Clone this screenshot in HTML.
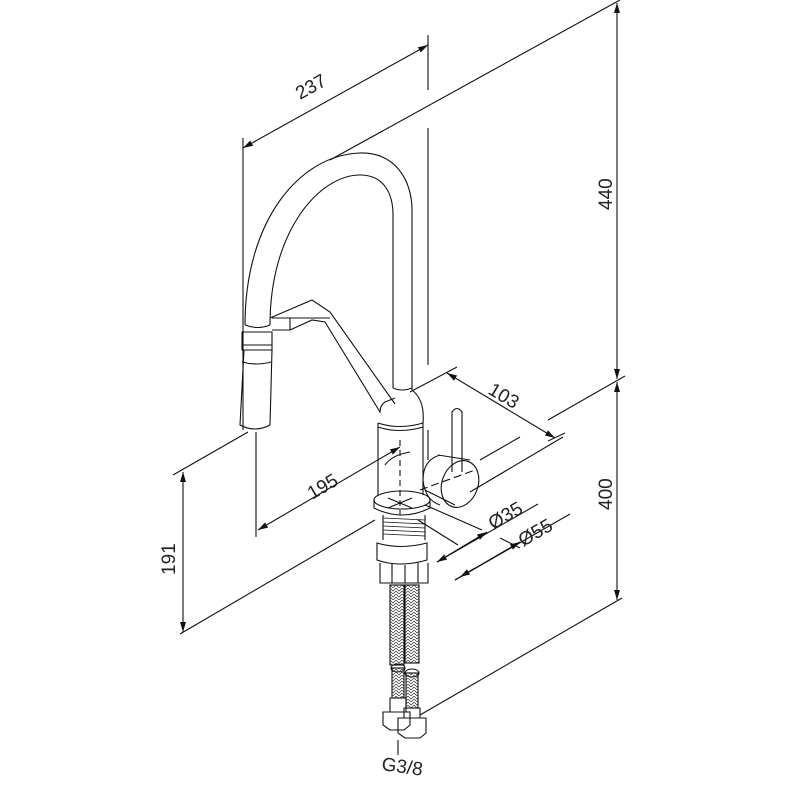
<!DOCTYPE html>
<html><head><meta charset="utf-8"><style>
html,body{margin:0;padding:0;background:#fff;}
svg{display:block;}
text{font-family:"Liberation Sans",sans-serif;font-size:19px;fill:#222;}
</style></head><body>
<svg width="789" height="788" viewBox="0 0 789 788" xmlns="http://www.w3.org/2000/svg">
<defs>
<marker id="a" viewBox="0 0 10 6" refX="10" refY="3" markerWidth="10" markerHeight="6" orient="auto-start-reverse" markerUnits="userSpaceOnUse"><path d="M0,0 L10,3 L0,6z" fill="#111"/></marker>
<pattern id="br" width="6" height="6" patternUnits="userSpaceOnUse"><path d="M0,0 L3,3 L6,0 M0,3 L3,6 L6,3" stroke="#333" stroke-width="0.7" fill="none"/></pattern>
</defs>
<g stroke="#111" stroke-width="1.1" fill="none">
<!-- 237 dimension -->
<line x1="243" y1="138" x2="243" y2="430"/>
<line x1="428" y1="35" x2="428" y2="90"/>
<line x1="428" y1="128" x2="428" y2="365"/>
<line x1="243" y1="148" x2="428" y2="45" marker-start="url(#a)" marker-end="url(#a)"/>
<!-- 440 -->
<line x1="330" y1="160" x2="620" y2="0"/>
<line x1="617" y1="3" x2="617" y2="379" marker-start="url(#a)" marker-end="url(#a)"/>
<line x1="617" y1="382" x2="617" y2="600" marker-start="url(#a)" marker-end="url(#a)"/>
<line x1="548" y1="420" x2="625" y2="376"/>
<line x1="420" y1="715" x2="622" y2="598"/>
<!-- 103 -->
<line x1="410" y1="392" x2="457" y2="367"/>
<line x1="447" y1="373" x2="555" y2="438" marker-start="url(#a)" marker-end="url(#a)"/>
<line x1="548" y1="441" x2="565" y2="433"/>
<line x1="480" y1="460" x2="520" y2="437"/>
<line x1="470" y1="492" x2="563" y2="437"/>
<!-- 195 / 191 -->
<line x1="173" y1="475" x2="248" y2="432"/>
<line x1="256" y1="432" x2="256" y2="537"/>
<line x1="258" y1="530" x2="400" y2="447" marker-start="url(#a)" marker-end="url(#a)"/>
<line x1="183" y1="472" x2="183" y2="632" marker-start="url(#a)" marker-end="url(#a)"/>
<line x1="180" y1="634" x2="375" y2="520"/>
<!-- Ø35 / Ø55 -->
<line x1="425" y1="505" x2="482" y2="530"/>
<line x1="418" y1="520" x2="458" y2="545"/>
<line x1="437" y1="562" x2="538" y2="504" marker-start="url(#a)"/>
<line x1="487" y1="532" x2="437" y2="562" marker-start="url(#a)"/>
<line x1="455" y1="580" x2="570" y2="514"/>
<line x1="520" y1="542" x2="455" y2="580" marker-start="url(#a)"/>
<line x1="460" y1="577" x2="475" y2="568" marker-start="url(#a)"/>
<line x1="500" y1="538" x2="520" y2="548"/>
<!-- spout -->
<path d="M245 325 C245 220 300 155 360 153 C395 152 412 180 412 210 L412 390"/>
<path d="M270 325 C270 230 320 175 360 175 C385 175 393 195 393 215 L393 388"/>
<path d="M393 388 Q402 392 412 388"/>
<!-- spray head -->
<path d="M245 325 Q258 330 270 325"/>
<path d="M242 332 L272 332 L272 350 L242 350 Z"/>
<path d="M242 345 L272 345"/>
<path d="M244 350 L240 425 Q255 433 270 425 L272 350"/>
<path d="M242 362 Q256 366 271 362"/>
<!-- bracket -->
<path d="M270 318 L312 300 L330 312 L395 404"/>
<path d="M272 330 L290 330 L290 318 L330 318"/>
<path d="M290 330 L312 320 L325 322 L380 412"/>
<path d="M272 318 L290 318"/>
<!-- body -->
<path d="M380 413 Q380 405 385 402 L395 398 M412 390 Q425 400 423 423"/>
<path d="M378 423 L378 495 M423 423 L423 495"/>
<path d="M378 423 Q400 430 423 423"/>
<path d="M378 427 Q400 434 423 427"/>
<path d="M428 430 L428 460"/>
<path d="M400 440 L400 515" stroke-dasharray="6,4"/>
<path d="M385 465 Q392 455 410 452"/>
<!-- escutcheon -->
<ellipse cx="402" cy="500" rx="28" ry="9"/>
<path d="M374 500 L374 508 Q402 522 430 508 L430 500"/>
<path d="M388 498 L412 508 M412 498 L388 508"/>
<!-- thread -->
<path d="M383 515 L383 540 M425 515 L425 540"/>
<g stroke-width="0.7"><path d="M383 518 L425 520 M383 522 L425 524 M383 526 L425 528 M383 530 L425 532 M383 534 L425 536"/></g>
<path d="M377 543 Q400 550 427 543 L427 560 Q400 568 377 560 Z"/>
<path d="M380 563 L380 583 L428 583 L428 563"/>
<path d="M392 563 L392 583 M405 565 L405 583 M418 563 L418 583"/>
<!-- handle -->
<path d="M452 472 L452 412 Q457 405 462 412 L462 472"/>
<path d="M438 455 L470 460 M425 490 L455 505"/>
<ellipse cx="460" cy="484" rx="18" ry="24" transform="rotate(20 460 484)"/>
<path d="M440 455 Q423 460 423 480 Q425 500 440 505"/>
<path d="M420 490 L475 470" stroke-dasharray="8,4"/>
<!-- hoses -->
<rect x="390" y="585" width="14" height="80" fill="url(#br)"/>
<rect x="405" y="585" width="14" height="78" fill="url(#br)"/>
<rect x="392" y="668" width="12" height="30" fill="url(#br)"/>
<rect x="406" y="673" width="12" height="35" fill="url(#br)"/>
<ellipse cx="398" cy="668" rx="7" ry="4"/>
<ellipse cx="412" cy="673" rx="7" ry="4"/>
<path d="M390 698 L390 712 L406 712 L406 698 Z"/>
<path d="M383 712 L383 725 L390 730 L404 730 L410 725 L410 712 Z"/>
<path d="M404 708 L404 718 L420 718 L420 708 Z"/>
<path d="M398 718 L398 733 L405 738 L420 738 L426 733 L426 718 Z"/>
<line x1="398" y1="740" x2="398" y2="755"/>
</g>
<text transform="translate(300,100) rotate(-29)">237</text>
<text transform="translate(612,210) rotate(-90)">440</text>
<text transform="translate(612,510) rotate(-90)">400</text>
<text transform="translate(487,393) rotate(31)">103</text>
<text transform="translate(312,500) rotate(-30)">195</text>
<text transform="translate(175,575) rotate(-90)">191</text>
<text transform="translate(493,530) rotate(-30)">Ø35</text>
<text transform="translate(523,547) rotate(-30)">Ø55</text>
<text transform="translate(381,770) rotate(8)">G3/8</text>
</svg>
</body></html>
